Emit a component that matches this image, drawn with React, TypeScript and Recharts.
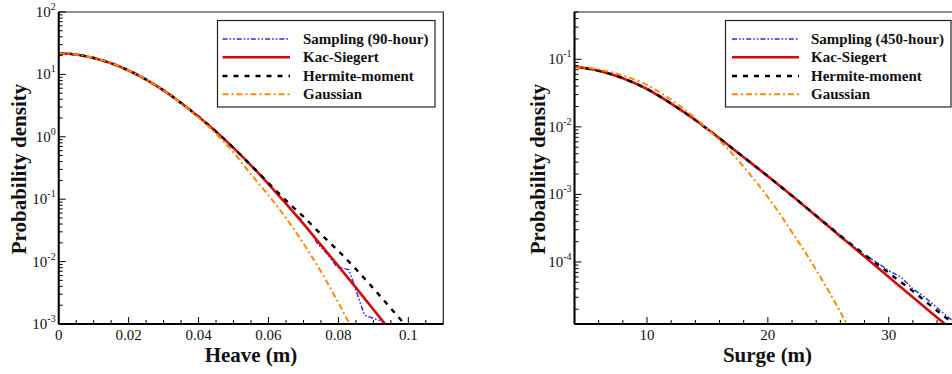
import React from 'react';
import { LineChart, Line, XAxis, YAxis, ReferenceArea } from 'recharts';

const FONT = '"Liberation Serif", "Times New Roman", Times, serif';

// ---------- Heave panel ----------
const heaveX = [0, 0.005, 0.01, 0.015, 0.02, 0.025, 0.03, 0.035, 0.04, 0.045, 0.05, 0.055, 0.06, 0.065, 0.07, 0.075, 0.08, 0.085, 0.09, 0.095, 0.1];
const heaveKacSiegert = [21.8, 20.8, 18.32, 15.07, 11.56, 8.28, 5.53, 3.49, 2.1, 1.21, 0.665, 0.349, 0.175, 0.0847, 0.0401, 0.0185, 0.00847, 0.00383, 0.00171, 0.000764, 0.000341];
const heaveHermite = [21.8, 20.8, 18.32, 15.07, 11.56, 8.28, 5.53, 3.49, 2.1, 1.21, 0.665, 0.349, 0.182, 0.0955, 0.0525, 0.0275, 0.0148, 0.00759, 0.00372, 0.00178, 0.000851];
const heaveGaussianX = [0, 0.005, 0.01, 0.015, 0.02, 0.025, 0.03, 0.035, 0.04, 0.045, 0.05, 0.055, 0.06, 0.065, 0.07, 0.075, 0.08, 0.085];
const heaveGaussian = [21.8, 20.9, 18.4, 15.1, 11.6, 8.3, 5.52, 3.47, 2.04, 1.12, 0.562, 0.251, 0.115, 0.0501, 0.0195, 0.00692, 0.00219, 0.00063];
const heaveSamplingX = [0, 0.005, 0.01, 0.015, 0.02, 0.025, 0.03, 0.035, 0.04, 0.045, 0.05, 0.055, 0.06, 0.065, 0.067, 0.069, 0.072, 0.074, 0.077, 0.0795, 0.083, 0.084, 0.086, 0.0875, 0.09, 0.0925, 0.094];
const heaveSampling = [21.6, 20.9, 18.3, 15.0, 11.6, 8.3, 5.5, 3.5, 2.09, 1.22, 0.67, 0.345, 0.176, 0.085, 0.063, 0.05, 0.03, 0.0195, 0.0129, 0.0083, 0.0074, 0.0051, 0.0024, 0.00138, 0.00123, 0.0011, 0.00089];
const heaveMajorTicks = [0, 0.02, 0.04, 0.06, 0.08, 0.1];
const heaveMinorTicks = [0.005, 0.01, 0.015, 0.025, 0.03, 0.035, 0.045, 0.05, 0.055, 0.065, 0.07, 0.075, 0.085, 0.09, 0.095, 0.105];
const heaveDecades = [-3, -2, -1, 0, 1, 2];
const heaveXDomain = [0, 0.11];
const heaveYDomain = [1e-3, 100];

// ---------- Surge panel ----------
const surgeX = [4, 6, 8, 10, 12, 14, 16, 18, 20, 22, 24, 26, 28, 30, 32, 34, 36];
const surgeKacSiegert = [0.0785, 0.0676, 0.0525, 0.0363, 0.0221, 0.0126, 0.00676, 0.00355, 0.00186, 0.000955, 0.000479, 0.00024, 0.00012, 6.0e-5, 3.0e-5, 1.51e-5, 7.6e-6];
const surgeHermite = [0.0785, 0.0676, 0.0525, 0.0363, 0.0221, 0.0126, 0.00676, 0.00355, 0.00186, 0.000955, 0.000485, 0.000245, 0.000129, 6.9e-5, 3.7e-5, 1.9e-5, 1.0e-5];
const surgeSamplingX = [4, 6, 8, 10, 12, 14, 16, 18, 19, 20, 22, 24, 25, 26, 27, 28, 29, 30, 31, 32, 33, 34, 35, 36];
const surgeSampling = [0.078, 0.068, 0.0528, 0.0365, 0.022, 0.0127, 0.0068, 0.0036, 0.0026, 0.00188, 0.00096, 0.00048, 0.000347, 0.000229, 0.000174, 0.000126, 0.0001, 7.4e-5, 6.0e-5, 4.0e-5, 3.0e-5, 2.1e-5, 1.48e-5, 1.07e-5];
const surgeGaussianX = [4, 6, 8, 10, 12, 14, 16, 18, 19, 20, 21, 22, 23, 24, 25, 26, 27, 28];
const surgeGaussian = [0.0785, 0.0708, 0.0575, 0.0417, 0.0251, 0.0135, 0.0063, 0.00257, 0.00155, 0.000912, 0.000513, 0.000275, 0.000148, 7.6e-5, 3.8e-5, 1.82e-5, 8.3e-6, 3.6e-6];
const surgeMajorTicks = [10, 20, 30];
const surgeMinorTicks = [6, 8, 12, 14, 16, 18, 22, 24, 26, 28, 32, 34, 36];
const surgeDecades = [-5, -4, -3, -2, -1];
const surgeXDomain = [4, 36];
const surgeYDomain = [1.208e-5, 0.501];

// ---------- Legend ----------
const heaveLegend = ['Sampling (90-hour)', 'Kac-Siegert', 'Hermite-moment', 'Gaussian'];
const surgeLegend = ['Sampling (450-hour)', 'Kac-Siegert', 'Hermite-moment', 'Gaussian'];

const STYLES = [
  { stroke: '#2b2bf5', width: 1.5, dash: '5 2 1.6 2 1.6 2', curve: 'linear' },
  { stroke: '#d40a0f', width: 2.6, dash: undefined, curve: 'monotone' },
  { stroke: '#000000', width: 2.4, dash: '5 6', curve: 'monotone' },
  { stroke: '#ff8a00', width: 2, dash: '6 3 2 3', curve: 'monotone' },
];

const zip = (xs: number[], ys: number[]) => xs.map((x, i) => ({ x, y: ys[i] }));

function logTicks(decades: number[], lo: number, hi: number) {
  const out: number[] = [];
  for (const d of decades) {
    for (let m = 1; m <= 9; m++) {
      const v = m * Math.pow(10, d);
      if (v >= lo * 0.999 && v <= hi * 1.001) out.push(v);
    }
  }
  return out;
}

const textStyle = { fontFamily: FONT };

const YTick = (props: any) => {
  const { x, y, payload } = props;
  const v = payload.value;
  const e = Math.log10(v);
  const r = Math.round(e);
  const major = Math.abs(e - r) < 1e-6;
  return (
    <g>
      <line x1={x} x2={x + (major ? 7 : 4)} y1={y} y2={y} stroke="#000" strokeWidth={1} />
      {major ? (
        <text x={x - 3} y={y + 5} textAnchor="end" fontFamily={FONT} style={textStyle} fontSize={15} fill="#111">
          <tspan>10</tspan>
          <tspan dy={-7} fontSize={10}>{String(r)}</tspan>
        </text>
      ) : null}
    </g>
  );
};

const makeXTick = (majors: number[]) => (props: any) => {
  const { x, y, payload } = props;
  const v = payload.value;
  const major = majors.some((m) => Math.abs(m - v) < 1e-9);
  return (
    <g>
      <line x1={x} x2={x} y1={y} y2={y - (major ? 7 : 4)} stroke="#000" strokeWidth={1} />
      {major ? (
        <text x={x} y={y + 16} textAnchor="middle" fontFamily={FONT} style={textStyle} fontSize={15} fill="#111">
          {String(Math.round(v * 1000) / 1000)}
        </text>
      ) : null}
    </g>
  );
};

type Panel = {
  width: number;
  margin: { top: number; right: number; bottom: number; left: number };
  xDomain: number[];
  yDomain: number[];
  xTicks: number[];
  majors: number[];
  yTicks: number[];
  series: { x: number; y: number }[][];
};

function PanelChart({ p }: { p: Panel }) {
  const XT = makeXTick(p.majors);
  return (
    <LineChart width={p.width} height={374} margin={p.margin}>
      <XAxis
        dataKey="x"
        type="number"
        domain={p.xDomain}
        allowDataOverflow
        ticks={p.xTicks}
        interval={0}
        height={1}
        tickSize={0}
        tickMargin={0}
        tickLine={false}
        tick={<XT />}
        axisLine={{ stroke: '#000', strokeWidth: 2 }}
      />
      <YAxis
        dataKey="y"
        type="number"
        scale="log"
        domain={p.yDomain}
        allowDataOverflow
        ticks={p.yTicks}
        interval={0}
        width={1}
        tickSize={0}
        tickMargin={0}
        tickLine={false}
        tick={<YTick />}
        axisLine={{ stroke: '#000', strokeWidth: 2 }}
      />
      <ReferenceArea
        x1={p.xDomain[0]}
        x2={p.xDomain[1]}
        y1={p.yDomain[0]}
        y2={p.yDomain[1]}
        fill="none"
        stroke="#222"
        strokeWidth={1.2}
        ifOverflow="visible"
      />
      {p.series.map((d, i) => (
        <Line
          key={i}
          data={d}
          dataKey="y"
          type={STYLES[i].curve as any}
          stroke={STYLES[i].stroke}
          strokeWidth={STYLES[i].width}
          strokeDasharray={STYLES[i].dash}
          dot={false}
          activeDot={false}
          isAnimationActive={false}
        />
      ))}
    </LineChart>
  );
}

function LegendBox({ x, y, w, h, lineX1, lineX2, textX, labels }: any) {
  const rows = [39, 57.3, 76, 94.3];
  return (
    <g>
      <rect x={x} y={y} width={w} height={h} fill="#fff" stroke="#222" strokeWidth={1.2} />
      {labels.map((t: string, i: number) => (
        <g key={t}>
          <line
            x1={lineX1}
            x2={lineX2}
            y1={rows[i]}
            y2={rows[i]}
            stroke={STYLES[i].stroke}
            strokeWidth={STYLES[i].width}
            strokeDasharray={STYLES[i].dash}
          />
          <text x={textX} y={rows[i] + 5} fontFamily={FONT} style={textStyle} fontWeight="bold" fontSize={15} fill="#111">
            {t}
          </text>
        </g>
      ))}
    </g>
  );
}

export default function App() {
  const heavePanel: Panel = {
    width: 476,
    margin: { top: 12, right: 32.7, bottom: 49, left: 57.7 },
    xDomain: heaveXDomain,
    yDomain: heaveYDomain,
    xTicks: [...heaveMajorTicks, ...heaveMinorTicks].sort((a, b) => a - b),
    majors: heaveMajorTicks,
    yTicks: logTicks(heaveDecades, heaveYDomain[0], heaveYDomain[1]),
    series: [
      zip(heaveSamplingX, heaveSampling),
      zip(heaveX, heaveKacSiegert),
      zip(heaveX, heaveHermite),
      zip(heaveGaussianX, heaveGaussian),
    ],
  };
  const surgePanel: Panel = {
    width: 500,
    margin: { top: 12, right: 14.8, bottom: 49, left: 97.5 },
    xDomain: surgeXDomain,
    yDomain: surgeYDomain,
    xTicks: [...surgeMajorTicks, ...surgeMinorTicks].sort((a, b) => a - b),
    majors: surgeMajorTicks,
    yTicks: logTicks(surgeDecades, surgeYDomain[0], surgeYDomain[1]),
    series: [
      zip(surgeSamplingX, surgeSampling),
      zip(surgeX, surgeKacSiegert),
      zip(surgeX, surgeHermite),
      zip(surgeGaussianX, surgeGaussian),
    ],
  };

  return (
    <div style={{ position: 'absolute', left: 0, top: 0, width: 952, height: 374, overflow: 'hidden', background: '#fff' }}>
      <div style={{ position: 'absolute', left: 0, top: 0 }}>
        <PanelChart p={heavePanel} />
      </div>
      <div style={{ position: 'absolute', left: 476, top: 0 }}>
        <PanelChart p={surgePanel} />
      </div>
      <svg width={952} height={374} style={{ position: 'absolute', left: 0, top: 0, pointerEvents: 'none' }}>
        <LegendBox x={217.5} y={20.5} w={217.5} h={86.5} lineX1={222.5} lineX2={290} textX={303} labels={heaveLegend} />
        <LegendBox x={725.5} y={20.5} w={225.5} h={86.5} lineX1={732} lineX2={799} textX={811} labels={surgeLegend} />
        <text x={26} y={169} transform="rotate(-90 26 169)" textAnchor="middle" fontFamily={FONT} style={textStyle} fontWeight="bold" fontSize={21} fill="#111">
          Probability density
        </text>
        <text x={545} y={169} transform="rotate(-90 545 169)" textAnchor="middle" fontFamily={FONT} style={textStyle} fontWeight="bold" fontSize={21} fill="#111">
          Probability density
        </text>
        <text x={251} y={362} textAnchor="middle" fontFamily={FONT} style={textStyle} fontWeight="bold" fontSize={21} fill="#111">
          Heave (m)
        </text>
        <text x={767.5} y={362} textAnchor="middle" fontFamily={FONT} style={textStyle} fontWeight="bold" fontSize={21} fill="#111">
          Surge (m)
        </text>
      </svg>
    </div>
  );
}
